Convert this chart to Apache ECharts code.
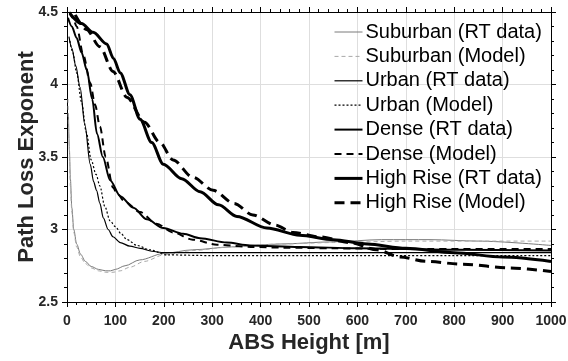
<!DOCTYPE html>
<html>
<head>
<meta charset="utf-8">
<title>Path Loss Exponent vs ABS Height</title>
<script src="https://cdn.jsdelivr.net/npm/echarts@6/dist/echarts.min.js"></script>
<style>
    html, body { margin: 0; padding: 0; background: #fff; }
    #main { width: 568px; height: 361px; }
</style>
</head>
<body>
<div id="main"></div>
<script>
// 数据
var xTicks = [0, 100, 200, 300, 400, 500, 600, 700, 800, 900, 1000];
var yTicks = [2.5, 3, 3.5, 4, 4.5];

var suburbanRtH = [3, 5, 7, 10, 14, 20, 28, 38, 50, 65, 80, 90, 100, 120, 150, 200, 260, 340, 440, 550, 650, 750, 850, 1000];
var suburbanRtV = [3.80, 3.55, 3.35, 3.15, 3.00, 2.90, 2.83, 2.78, 2.745, 2.725, 2.715, 2.715, 2.725, 2.75, 2.79, 2.835, 2.86, 2.88, 2.90, 2.915, 2.93, 2.93, 2.92, 2.89];

var suburbanModelH = [2, 4, 7, 10, 14, 20, 28, 38, 50, 65, 80, 95, 110, 130, 160, 200, 260, 340, 440, 550, 700, 850, 1000];
var suburbanModelV = [3.90, 3.62, 3.30, 3.12, 2.98, 2.88, 2.81, 2.765, 2.735, 2.715, 2.705, 2.705, 2.715, 2.74, 2.78, 2.825, 2.855, 2.88, 2.90, 2.91, 2.92, 2.92, 2.92];

var urbanRtH = [4, 10, 18, 27, 37, 48, 55, 61, 68, 75, 85, 95, 110, 130, 151, 175, 200, 300, 500, 700, 1000];
var urbanRtV = [4.33, 4.25, 4.13, 3.98, 3.72, 3.45, 3.33, 3.27, 3.18, 3.08, 3.00, 2.95, 2.91, 2.885, 2.87, 2.85, 2.84, 2.84, 2.84, 2.84, 2.84];

var urbanModelH = [6, 12, 20, 30, 40, 50, 60, 68, 78, 89, 100, 112, 124, 145, 171, 206, 300, 500, 1000];
var urbanModelV = [4.30, 4.22, 4.08, 3.88, 3.67, 3.48, 3.38, 3.30, 3.16, 3.06, 3.02, 2.97, 2.93, 2.89, 2.86, 2.825, 2.82, 2.82, 2.82];

var denseRtH = [2, 10, 20, 30, 41, 52, 62, 74, 89, 110, 137, 165, 199, 240, 275, 330, 378, 480, 600, 800, 1000];
var denseRtV = [4.46, 4.40, 4.32, 4.22, 4.10, 3.90, 3.66, 3.50, 3.34, 3.23, 3.15, 3.07, 3.01, 2.97, 2.94, 2.91, 2.89, 2.88, 2.87, 2.86, 2.855];

var denseModelH = [5, 12, 20, 34, 48, 58, 68, 80, 95, 103, 120, 151, 185, 219, 260, 310, 380, 447, 550, 700, 1000];
var denseModelV = [4.50, 4.46, 4.40, 4.20, 4.01, 3.86, 3.71, 3.50, 3.29, 3.25, 3.19, 3.12, 3.04, 2.98, 2.93, 2.895, 2.88, 2.875, 2.87, 2.865, 2.865];

var highRtH = [6, 30, 54, 82, 96, 110, 130, 151, 175, 199, 237, 275, 313, 351, 413, 481, 550, 620, 700, 800, 900, 1000];
var highRtV = [4.49, 4.42, 4.36, 4.28, 4.18, 4.08, 3.93, 3.76, 3.60, 3.45, 3.35, 3.26, 3.17, 3.09, 3.01, 2.96, 2.93, 2.90, 2.87, 2.84, 2.81, 2.78];

var highModelH = [17, 40, 68, 95, 124, 160, 192, 219, 260, 302, 345, 384, 430, 467, 520, 585, 640, 688, 743, 818, 915, 1000];
var highModelV = [4.48, 4.38, 4.26, 4.09, 3.91, 3.74, 3.60, 3.48, 3.36, 3.27, 3.18, 3.10, 3.03, 2.98, 2.95, 2.91, 2.86, 2.81, 2.78, 2.76, 2.735, 2.71];

var names = [
    'Suburban (RT data)', 'Suburban (Model)',
    'Urban (RT data)', 'Urban (Model)',
    'Dense (RT data)', 'Dense (Model)',
    'High Rise (RT data)', 'High Rise (Model)'
];

// 线型: 颜色, 线宽, 虚线样式
var styles = [
    ['#7a7a7a', 1, 'solid'],
    ['#a8a8a8', 1, [4, 3]],
    ['#000', 1.2, 'solid'],
    ['#000', 1.2, [2, 2]],
    ['#000', 2, 'solid'],
    ['#000', 2, [7, 5]],
    ['#000', 3, 'solid'],
    ['#000', 3, [10, 6]]
];

function pairs(h, v) {
    var out = [];
    for (var i = 0; i < h.length; i++) {
        out.push([h[i], v[i]]);
    }
    return out;
}

function lineSeries(idx, h, v) {
    var s = styles[idx];
    return {
        name: names[idx],
        type: 'line',
        data: pairs(h, v),
        symbol: 'none',
        smooth: 0.3,
        smoothMonotone: 'x',
        clip: true,
        lineStyle: { color: s[0], width: s[1], type: s[2] },
        itemStyle: { color: s[0] }
    };
}

var legendData = names.map(function (n, i) {
    return { name: n, lineStyle: { color: styles[i][0], width: styles[i][1], type: styles[i][2] } };
});

var font = '"Liberation Sans", Arial, sans-serif';
var labelColor = '#262626';

var myChart = echarts.init(document.getElementById('main'), null, { renderer: 'canvas' });

var baseX = {
    type: 'value', min: 0, max: 1000, interval: 100,
    axisLine: { show: true, onZero: false, lineStyle: { color: '#000', width: 1 } },
    axisTick: { show: true, length: 5, lineStyle: { color: '#000' } },
    minorTick: { show: true, splitNumber: 5, length: 3, lineStyle: { color: '#000' } }
};
var baseY = {
    type: 'value', min: 2.5, max: 4.5, interval: 0.5,
    axisLine: { show: true, onZero: false, lineStyle: { color: '#000', width: 1 } },
    axisTick: { show: true, length: 5, lineStyle: { color: '#000' } },
    minorTick: { show: true, splitNumber: 5, length: 3, lineStyle: { color: '#000' } }
};

var option = {
    animation: false,
    backgroundColor: '#fff',
    textStyle: { fontFamily: font },
    // 固定绘图区, 不让 v6 自动收缩
    grid: { left: 67, right: 17, top: 12, bottom: 59, containLabel: false, outerBoundsMode: 'none' },
    legend: {
        orient: 'vertical',
        left: 333,
        top: 22,
        padding: 0,
        itemWidth: 28,
        itemHeight: 14,
        itemGap: 4.4,
        data: legendData,
        // 图例只画线, 不画圆点
        itemStyle: { opacity: 0 },
        textStyle: { fontFamily: font, fontSize: 20, color: '#000', lineHeight: 20, padding: [0, 0, 0, -2] }
    },
    xAxis: [
        Object.assign({}, baseX, {
            position: 'bottom',
            name: 'ABS Height [m]',
            nameLocation: 'middle',
            nameGap: 30,
            nameMoveOverlap: false,
            nameTextStyle: { fontFamily: font, fontSize: 22, fontWeight: 'bold', color: labelColor },
            axisLabel: {
                margin: 12, fontFamily: font, fontSize: 14, fontWeight: 'bold', color: labelColor,
                formatter: function (v) { return xTicks.indexOf(v) >= 0 ? String(v) : ''; }
            },
            splitLine: { show: true, lineStyle: { color: '#dedede', width: 1 } }
        }),
        Object.assign({}, baseX, {
            position: 'top',
            axisLabel: { show: false },
            splitLine: { show: false }
        })
    ],
    yAxis: [
        Object.assign({}, baseY, {
            position: 'left',
            name: 'Path Loss Exponent',
            nameLocation: 'middle',
            nameGap: 29,
            nameMoveOverlap: false,
            nameTextStyle: { fontFamily: font, fontSize: 22, fontWeight: 'bold', color: labelColor },
            axisLabel: {
                margin: 9, fontFamily: font, fontSize: 14, fontWeight: 'bold', color: labelColor,
                formatter: function (v) { return yTicks.indexOf(v) >= 0 ? String(v) : ''; }
            },
            splitLine: { show: true, lineStyle: { color: '#dedede', width: 1 } }
        }),
        Object.assign({}, baseY, {
            position: 'right',
            axisLabel: { show: false },
            splitLine: { show: false }
        })
    ],
    series: [
        lineSeries(0, suburbanRtH, suburbanRtV),
        lineSeries(1, suburbanModelH, suburbanModelV),
        lineSeries(2, urbanRtH, urbanRtV),
        lineSeries(3, urbanModelH, urbanModelV),
        lineSeries(4, denseRtH, denseRtV),
        lineSeries(5, denseModelH, denseModelV),
        lineSeries(6, highRtH, highRtV),
        lineSeries(7, highModelH, highModelV)
    ]
};

myChart.setOption(option);
</script>
</body>
</html>
